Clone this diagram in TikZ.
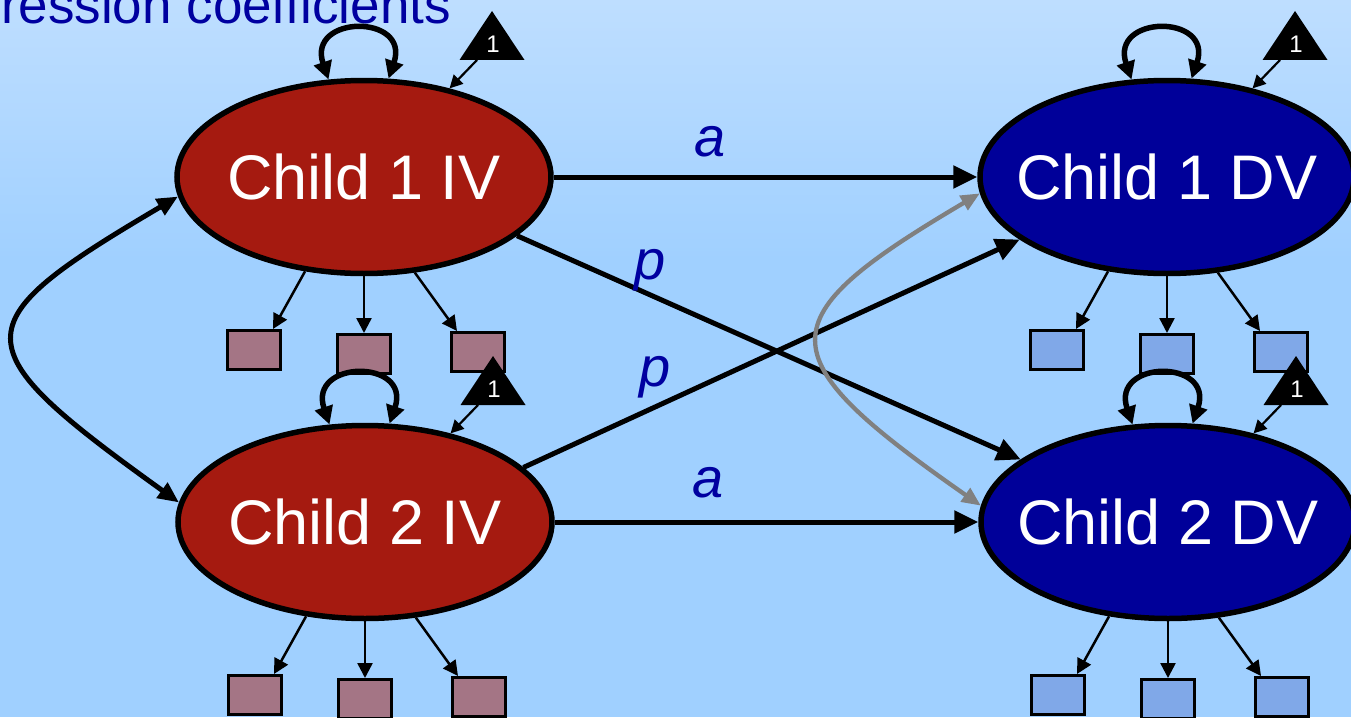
\documentclass[tikz,border=0pt]{standalone}
\usepackage{fontspec}
\setmainfont{Liberation Sans}
\usepackage{tikz}
\usetikzlibrary{shapes,arrows.meta,positioning,calc}

\definecolor{bgtop}{RGB}{190,222,255}
\definecolor{bgbot}{RGB}{160,208,255}
\definecolor{ivred}{RGB}{165,26,16}
\definecolor{dvblue}{RGB}{0,0,153}
\definecolor{ivsq}{RGB}{164,117,133}
\definecolor{dvsq}{RGB}{128,168,232}
\definecolor{lblue}{RGB}{0,0,160}

\tikzset{
  latent/.style={ellipse,draw=black,line width=5.5pt,minimum width=374pt,minimum height=193pt,inner xsep=-60pt,inner ysep=0pt,text=white,font=\fontsize{63}{70}\selectfont},
  ind/.style={rectangle,draw=black,line width=3pt,minimum width=53pt,minimum height=39pt,inner sep=0pt},
  heading/.style={text=lblue,font=\fontsize{53}{60}\selectfont,inner sep=0pt},
  lbl/.style={text=lblue,font=\fontsize{56}{60}\selectfont\itshape,inner sep=0pt},
  one/.style={text=white,font=\fontsize{24}{24}\selectfont,inner sep=0pt},
  reg/.style={line width=5pt,-{Triangle[length=24pt,width=22pt]}},
  cov/.style={line width=5pt,{Triangle[length=21pt,width=18pt]}-{Triangle[length=21pt,width=18pt]}},
  rescov/.style={line width=4.3pt,draw=gray,{Triangle[length=19pt,width=16pt]}-{Triangle[length=19pt,width=16pt]}},
  selfloop/.style={line width=5.5pt,{Triangle[length=18pt,width=18pt]}-{Triangle[length=18pt,width=18pt]}},
  load/.style={line width=2.5pt,-{Triangle[length=15pt,width=15pt]}},
  mean/.style={line width=2.2pt,-{Triangle[length=13pt,width=13pt]}},
}

\begin{document}
\begin{tikzpicture}[x=1pt,y=-1pt]
    % background
    \useasboundingbox (0,0) rectangle (1351,717);
    \fill[bgbot] (0,0) rectangle (1351,717);
    \shade[top color=bgtop,bottom color=bgbot] (0,0) rectangle (1351,260);
    \node[heading,anchor=base east] (head) at (451,24) {ression coefficients};

    % the four latent variables
    \node[latent,fill=ivred] (c1iv) at (364,177) {Child 1 IV};
    \node[latent,fill=ivred] (c2iv) at (365,522) {Child 2 IV};
    \node[latent,fill=dvblue] (c1dv) at (1167,177) {Child 1 DV};
    \node[latent,fill=dvblue] (c2dv) at (1168,522) {Child 2 DV};

    % indicators, variances and means
    \foreach \e/\c in {c1iv/ivsq,c2iv/ivsq,c1dv/dvsq,c2dv/dvsq}{
        \node[ind,fill=\c] (\e-1) at ([shift={(-110,173)}]\e.center) {};
        \node[ind,fill=\c] (\e-2) at ([shift={(0,177)}]\e.center) {};
        \node[ind,fill=\c] (\e-3) at ([shift={(114,175)}]\e.center) {};
        \draw[load] (\e.238) -- ([xshift=-9pt]\e-1.north east);
        \draw[load] (\e.south) -- (\e-2.north);
        \draw[load] (\e.298) -- ([xshift=7pt]\e-3.north west);
        \draw[selfloop] (\e.110) .. controls +(-22,-65) and +(22,-65) .. (\e.76);
        % mean triangle
        \fill ([shift={(128,-166)}]\e.center) -- ([shift={(95.5,-117)}]\e.center)
            -- ([shift={(160.5,-117)}]\e.center) -- cycle;
        \node[one] (\e-one) at ([shift={(129,-133)}]\e.center) {1};
        \coordinate (\e-base) at ([shift={(113,-117)}]\e.center);
        \draw[mean] (\e-base) -- (\e.46);
    }

    % actor effects
    \draw[reg] (c1iv.east) -- (c1dv.west);
    \draw[reg] (c2iv.east) -- (c2dv.west);
    \node[lbl] (a1) at (710,142) {a};
    \node[lbl] (a2) at (708,483) {a};

    % partner effects
    \draw[reg] (c1iv.339) -- (c2dv.157);
    \draw[reg] (c2iv.19) -- (c1dv.203);
    \node[lbl] (p1) at (650,270) {p};
    \node[lbl] (p2) at (655,377) {p};

    % covariances
    \draw[cov] (c1iv.186) .. controls (-40,325) and (-40,345) .. (c2iv.174);
    \draw[rescov] (c1dv.185) .. controls (765,320) and (765,355) .. (c2dv.175);
\end{tikzpicture}
\end{document}
